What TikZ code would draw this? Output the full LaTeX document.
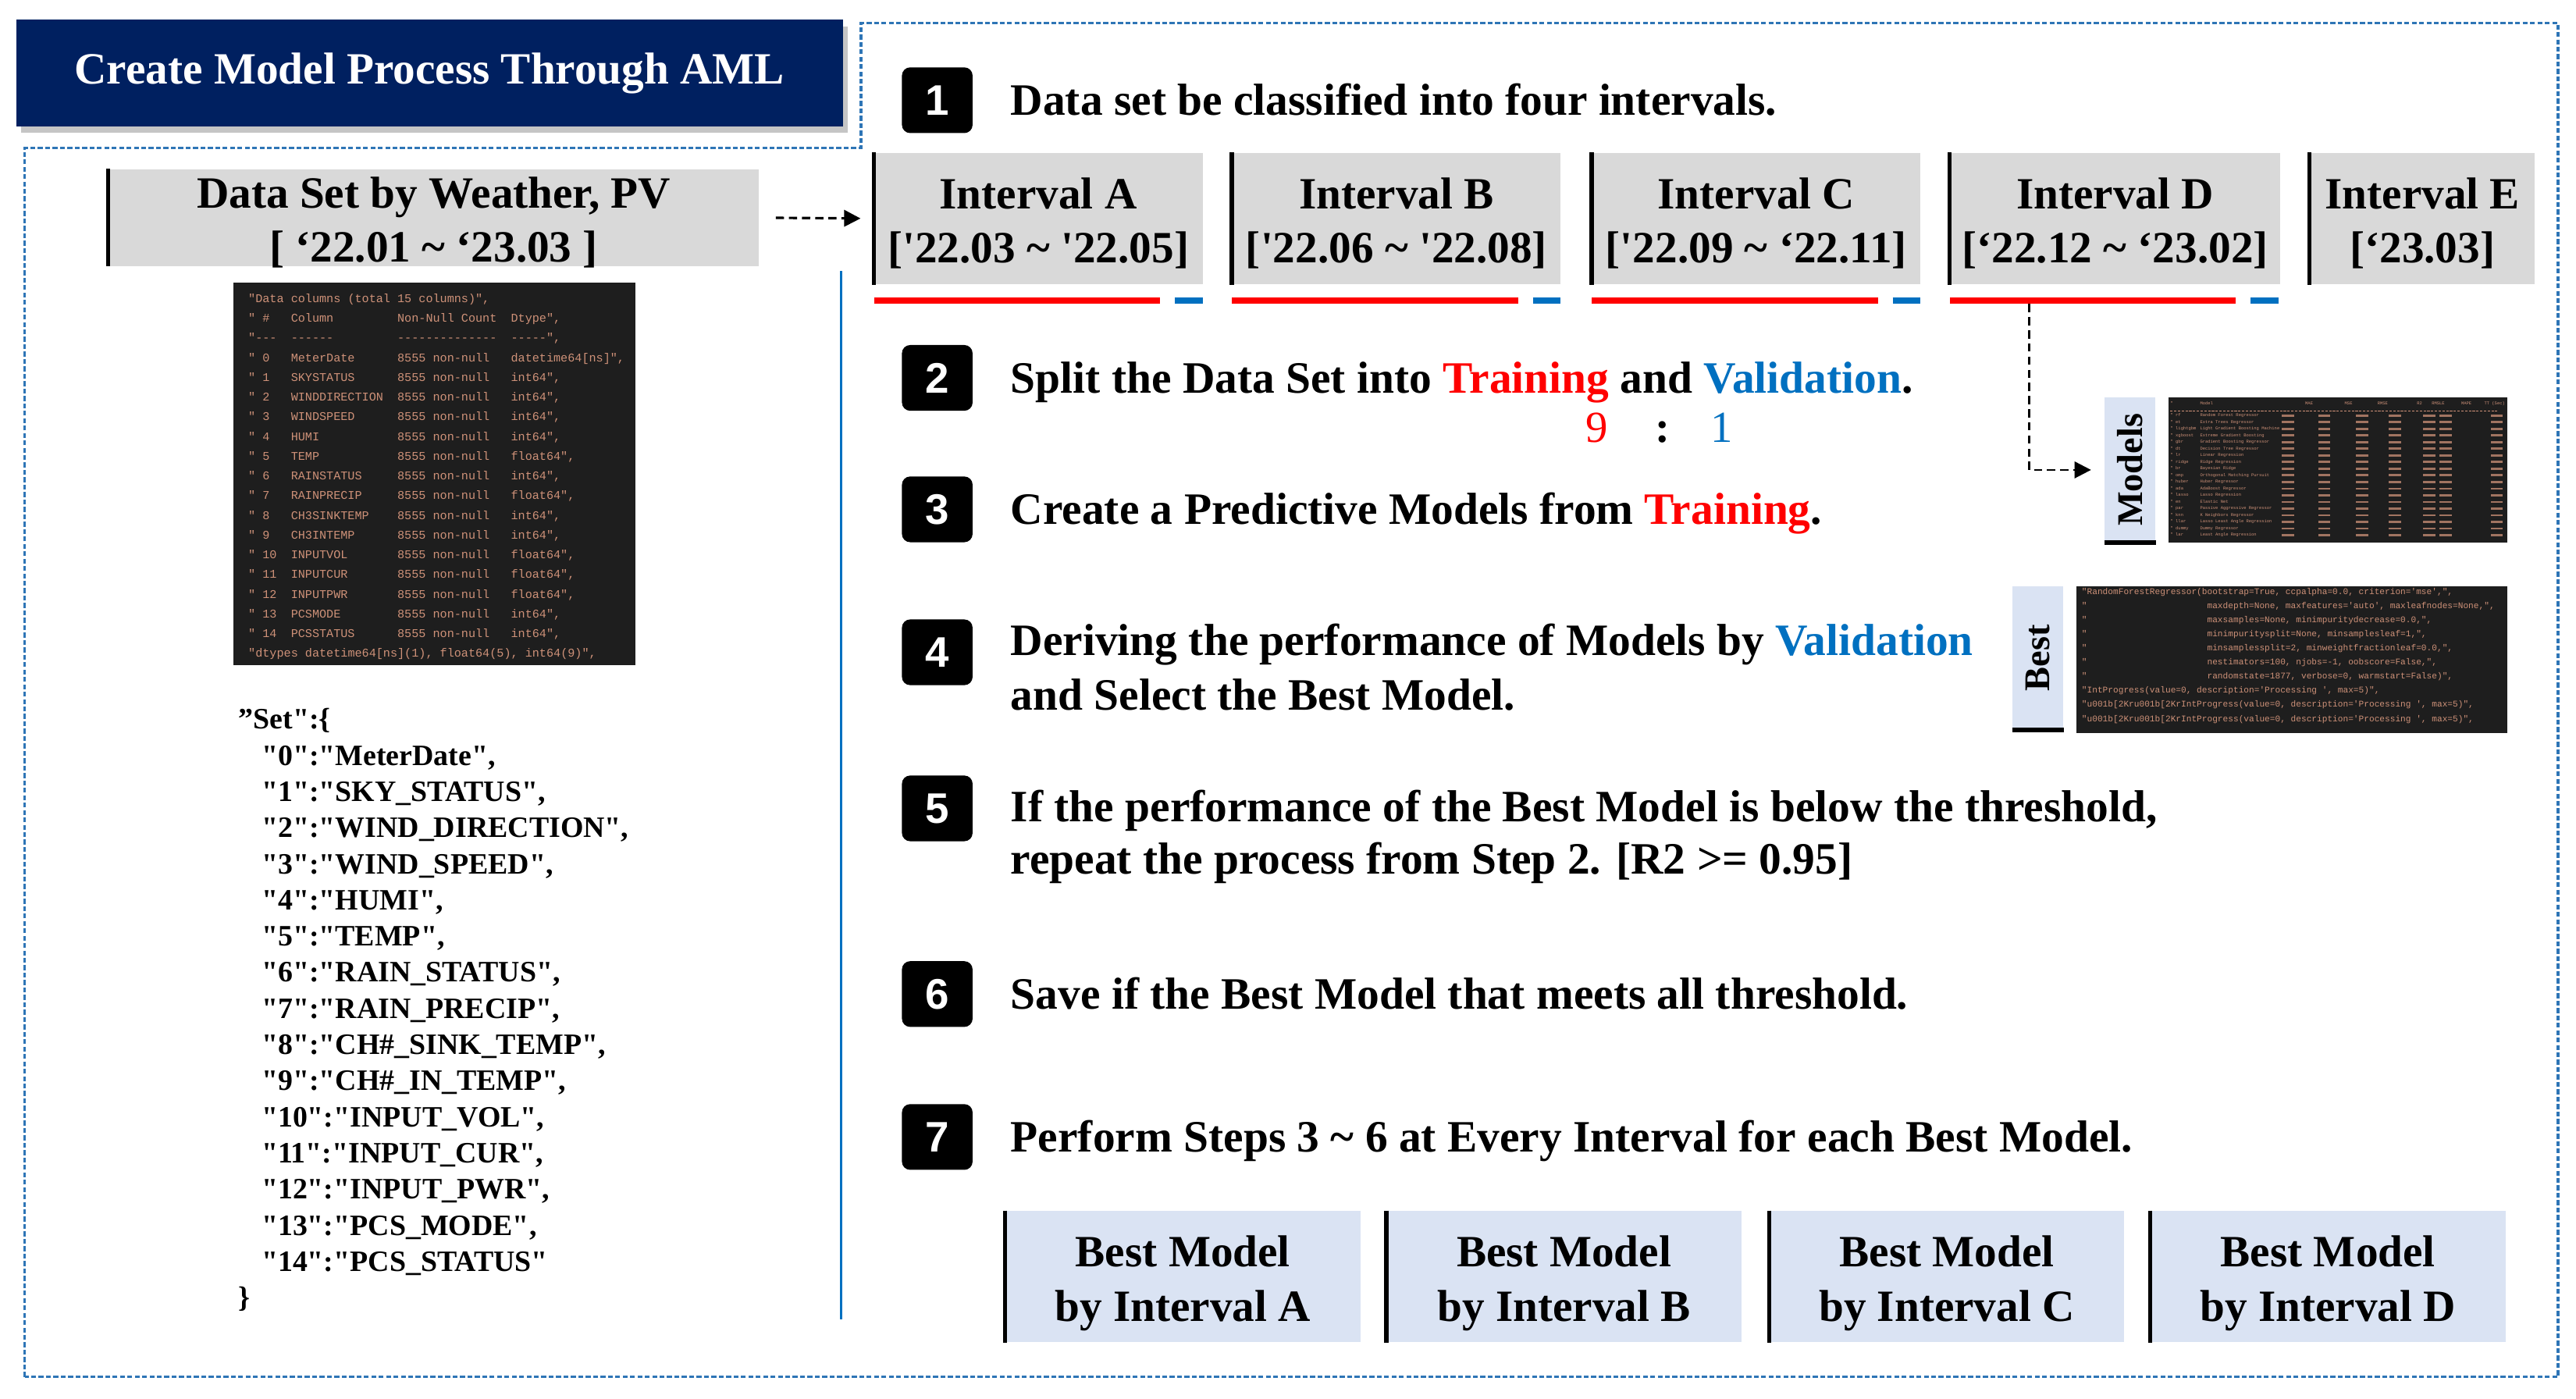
\documentclass[tikz,border=0pt]{standalone}
\usepackage{fontspec}
\setmainfont{Liberation Serif}[Ligatures=TeXOff]
\setsansfont{Liberation Sans}
\setmonofont{Liberation Mono}
\usetikzlibrary{shadows,arrows.meta}
\definecolor{navy}{HTML}{002060}
\definecolor{bluel}{HTML}{0070C0}
\definecolor{dashblue}{HTML}{2E75B6}
\definecolor{gbox}{HTML}{D9D9D9}
\definecolor{lbox}{HTML}{DAE3F3}
\definecolor{codebg}{HTML}{1E1E1E}
\definecolor{codefg}{HTML}{CE9178}
\newcommand\cln[4]{\makebox[3.6em][l]{#1}\makebox[9em][l]{#2}\makebox[9.6em][l]{#3}#4}
\newcommand\sps[1]{\hspace*{#1\dimexpr0.6em\relax}}
\begin{document}
\begin{tikzpicture}[x=1pt,y=-1pt,
  titlebox/.style={fill=navy, text=white, minimum width=503, minimum height=65, inner sep=0,
    font=\fontsize{27.2}{33}\selectfont\bfseries,
    drop shadow={opacity=0.45, shadow xshift=3pt, shadow yshift=-4pt}},
  graybox/.style={fill=gbox, inner sep=0, minimum height=80},
  lbluebox/.style={fill=lbox, inner sep=0, minimum height=80, minimum width=216},
  boxtxt/.style={inner sep=0, align=center, font=\fontsize{27.2}{33}\selectfont\bfseries},
  lbar/.style={line width=2.5pt, black},
  steptxt/.style={anchor=base west, inner sep=0, font=\fontsize{27.3}{33}\selectfont\bfseries},
  badge/.style={fill=black, rounded corners=5pt, minimum width=43, minimum height=40, inner sep=0,
    text=white, font=\fontsize{26}{26}\selectfont\sffamily\bfseries},
  codebox/.style={fill=codebg, inner sep=0},
  codetxt/.style={text=codefg, inner sep=0, align=left, anchor=north west},
  tinyc/.style={text=codefg, inner sep=0, anchor=base west, font=\fontsize{2.6}{3}\selectfont\ttfamily},
  outline/.style={dashblue, line width=1.6pt, dash pattern=on 3pt off 1.5pt},
  darr/.style={black, line width=1.5pt, dash pattern=on 5pt off 3pt, -{Triangle[length=10pt,width=10pt]}},
  vlabel/.style={rotate=90, inner sep=0, font=\fontsize{22}{22}\selectfont\bfseries}
]
\fill[white] (0,0) rectangle (1568,851);
\useasboundingbox (0,0) rectangle (1568,851);

% outer dashed outline
\draw[outline] (15,838) -- (15,90) -- (524,90) -- (524,14) -- (1557,14) -- (1557,838) -- cycle;

% title
\node[titlebox] (title) at (261.5,44.5) {Create Model Process Through AML};

% data set box
\node[graybox, minimum width=396, minimum height=59] (ds) at (264,132.5) {};
\node[boxtxt] (dst) at ([yshift=-3pt]ds.center) {Data Set by Weather, PV\\{}[ ‘22.01 \textasciitilde{} ‘23.03 ]};
\draw[lbar] (ds.north west) -- (ds.south west);

% divider
\draw[bluel, line width=1.5pt] (512,165) -- (512,803);

% left code box
\node[codebox, minimum width=245, minimum height=233] (code1) at (264.5,288.5) {};
\node[codetxt, font=\fontsize{7.2}{12}\selectfont\ttfamily] (code1t) at (151,178.6) {%
"Data columns (total 15 columns)",\\
\cln{" \#}{Column}{Non-Null Count}{Dtype",}\\
\cln{"---}{------}{--------------}{-----",}\\
\cln{" 0}{MeterDate}{8555 non-null}{datetime64[ns]",}\\
\cln{" 1}{SKYSTATUS}{8555 non-null}{int64",}\\
\cln{" 2}{WINDDIRECTION}{8555 non-null}{int64",}\\
\cln{" 3}{WINDSPEED}{8555 non-null}{int64",}\\
\cln{" 4}{HUMI}{8555 non-null}{int64",}\\
\cln{" 5}{TEMP}{8555 non-null}{float64",}\\
\cln{" 6}{RAINSTATUS}{8555 non-null}{int64",}\\
\cln{" 7}{RAINPRECIP}{8555 non-null}{float64",}\\
\cln{" 8}{CH3SINKTEMP}{8555 non-null}{int64",}\\
\cln{" 9}{CH3INTEMP}{8555 non-null}{int64",}\\
\cln{" 10}{INPUTVOL}{8555 non-null}{float64",}\\
\cln{" 11}{INPUTCUR}{8555 non-null}{float64",}\\
\cln{" 12}{INPUTPWR}{8555 non-null}{float64",}\\
\cln{" 13}{PCSMODE}{8555 non-null}{int64",}\\
\cln{" 14}{PCSSTATUS}{8555 non-null}{int64",}\\
"dtypes datetime64[ns](1), float64(5), int64(9)",};

% set list
\node[inner sep=0, align=left, anchor=north west, font=\fontsize{18}{22}\selectfont\bfseries] (setl) at (145,431) {%
”Set":\{\\
\hspace*{14pt}"0":"MeterDate",\\
\hspace*{14pt}"1":"SKY\_STATUS",\\
\hspace*{14pt}"2":"WIND\_DIRECTION",\\
\hspace*{14pt}"3":"WIND\_SPEED",\\
\hspace*{14pt}"4":"HUMI",\\
\hspace*{14pt}"5":"TEMP",\\
\hspace*{14pt}"6":"RAIN\_STATUS",\\
\hspace*{14pt}"7":"RAIN\_PRECIP",\\
\hspace*{14pt}"8":"CH\#\_SINK\_TEMP",\\
\hspace*{14pt}"9":"CH\#\_IN\_TEMP",\\
\hspace*{14pt}"10":"INPUT\_VOL",\\
\hspace*{14pt}"11":"INPUT\_CUR",\\
\hspace*{14pt}"12":"INPUT\_PWR",\\
\hspace*{14pt}"13":"PCS\_MODE",\\
\hspace*{14pt}"14":"PCS\_STATUS"\\
\}};

% step badges
\node[badge] (b1) at (570.5,61) {1};
\node[badge] (b2) at (570.5,230) {2};
\node[badge] (b3) at (570.5,310) {3};
\node[badge] (b4) at (570.5,397) {4};
\node[badge] (b5) at (570.5,492) {5};
\node[badge] (b6) at (570.5,605) {6};
\node[badge] (b7) at (570.5,692) {7};

% step texts
\node[steptxt] (s1) at (615,70) {Data set be classified into four intervals.};
\node[steptxt] (s2) at (615,239) {Split the Data Set into \textcolor{red}{Training} and \textcolor{bluel}{Validation}.};
\node[anchor=base, inner sep=0, font=\fontsize{27}{33}\selectfont, text=red] (r9) at (972,269) {9};
\node[anchor=base, inner sep=0, font=\fontsize{27}{33}\selectfont\bfseries] (rc) at (1012,269) {:};
\node[anchor=base, inner sep=0, font=\fontsize{27}{33}\selectfont, text=bluel] (r1) at (1048,269) {1};
\node[steptxt] (s3) at (615,319) {Create a Predictive Models from \textcolor{red}{Training}.};
\node[steptxt] (s4a) at (615,399) {Deriving the performance of Models by \textcolor{bluel}{Validation}};
\node[steptxt] (s4b) at (615,432) {and Select the Best Model.};
\node[steptxt] (s5a) at (615,500) {If the performance of the Best Model is below the threshold,};
\node[steptxt] (s5b) at (615,532) {repeat the process from Step 2. [R2 >= 0.95]};
\node[steptxt] (s6) at (615,614) {Save if the Best Model that meets all threshold.};
\node[steptxt] (s7) at (615,701) {Perform Steps 3 \textasciitilde{} 6 at Every Interval for each Best Model.};

% interval boxes
\node[graybox, minimum width=200] (iA) at (632,133) {};
\node[graybox, minimum width=200] (iB) at (850,133) {};
\node[graybox, minimum width=200] (iC) at (1069,133) {};
\node[graybox, minimum width=201] (iD) at (1287.5,133) {};
\node[graybox, minimum width=137] (iE) at (1474.5,133) {};
\node[boxtxt] (iAt) at ([yshift=-3pt]iA.center) {Interval A\\{}[\textquotesingle22.03 \textasciitilde{} \textquotesingle22.05]};
\node[boxtxt] (iBt) at ([yshift=-3pt]iB.center) {Interval B\\{}[\textquotesingle22.06 \textasciitilde{} \textquotesingle22.08]};
\node[boxtxt] (iCt) at ([yshift=-3pt]iC.center) {Interval C\\{}[\textquotesingle22.09 \textasciitilde{} ‘22.11]};
\node[boxtxt] (iDt) at ([yshift=-3pt]iD.center) {Interval D\\{}[‘22.12 \textasciitilde{} ‘23.02]};
\node[boxtxt] (iEt) at ([yshift=-3pt]iE.center) {Interval E\\{}[‘23.03]};
\foreach \nn in {iA,iB,iC,iD,iE} \draw[lbar] (\nn.north west) -- (\nn.south west);

% dataset -> interval A
\draw[darr, shorten <=10pt, shorten >=8pt] (ds.east) -- (iA.west);

% training / validation bars
\foreach \L in {532,750,969,1187} {
  \draw[red, line width=4pt] (\L,183) -- ++(174,0);
  \draw[bluel, line width=4pt] ({\L+183},183) -- ++(17,0);
}

% models label & table
\node[fill=lbox, inner sep=0, minimum width=31, minimum height=88] (mbox) at (1296.5,286) {};
\node[vlabel] (mlbl) at (mbox.center) {Models};
\draw[line width=3pt] (mbox.south west) -- (mbox.south east);
\node[codebox, minimum width=206, minimum height=88] (mtab) at (1423,286) {};
\node[tinyc] (mh0) at (1321,246.5) {"};
\node[tinyc] (mh1) at (1339,246.5) {Model};
\node[tinyc] (mh2) at (1403,246.5) {MAE};
\node[tinyc] (mh3) at (1427,246.5) {MSE};
\node[tinyc] (mh4) at (1447,246.5) {RMSE};
\node[tinyc] (mh5) at (1471,246.5) {R2};
\node[tinyc] (mh6) at (1480,246.5) {RMSLE};
\node[tinyc] (mh7) at (1498,246.5) {MAPE};
\node[tinyc] (mh8) at (1512,246.5) {TT (Sec)};
\draw[codefg, line width=0.5pt, dash pattern=on 1.5pt off 0.8pt] (1321,250) -- (1520,250);
\foreach \mc/\mn [count=\i] in {rf/Random Forest Regressor, et/Extra Trees Regressor,
  lightgbm/Light Gradient Boosting Machine, xgboost/Extreme Gradient Boosting,
  gbr/Gradient Boosting Regressor, dt/Decision Tree Regressor, lr/Linear Regression,
  ridge/Ridge Regression, br/Bayesian Ridge, omp/Orthogonal Matching Pursuit,
  huber/Huber Regressor, ada/AdaBoost Regressor, lasso/Lasso Regression,
  en/Elastic Net, par/Passive Aggressive Regressor, knn/K Neighbors Regressor,
  llar/Lasso Least Angle Regression, dummy/Dummy Regressor, lar/Least Angle Regression} {
  \node[tinyc] (mc\i) at (1321,{253.5+(\i-1)*4.05}) {" \mc};
  \node[tinyc] (mn\i) at (1339,{253.5+(\i-1)*4.05}) {\mn};
  \foreach \xx in {1389,1411,1434,1454,1475,1485,1516}
    \fill[codefg, opacity=0.75] (\xx,{252.2+(\i-1)*4.05}) rectangle ++(7.5,1.3);
}

% best label & code
\node[fill=lbox, inner sep=0, minimum width=31, minimum height=87] (bbox) at (1240.5,400.5) {};
\node[vlabel] (blbl) at (bbox.center) {Best};
\draw[line width=3pt] (bbox.south west) -- (bbox.south east);
\node[codebox, minimum width=262, minimum height=89] (bcode) at (1395,401.5) {};
\node[codetxt, font=\fontsize{5.3}{8.6}\selectfont\ttfamily] (bcodet) at (1267,357.6) {%
"RandomForestRegressor(bootstrap=True, ccpalpha=0.0, criterion='mse',",\\
"\sps{23}maxdepth=None, maxfeatures='auto', maxleafnodes=None,",\\
"\sps{23}maxsamples=None, minimpuritydecrease=0.0,",\\
"\sps{23}minimpuritysplit=None, minsamplesleaf=1,",\\
"\sps{23}minsamplessplit=2, minweightfractionleaf=0.0,",\\
"\sps{23}nestimators=100, njobs=-1, oobscore=False,",\\
"\sps{23}randomstate=1877, verbose=0, warmstart=False)",\\
"IntProgress(value=0, description='Processing ', max=5)",\\
"u001b[2Kru001b[2KrIntProgress(value=0, description='Processing ', max=5)",\\
"u001b[2Kru001b[2KrIntProgress(value=0, description='Processing ', max=5)",};

% connector interval D -> models
\coordinate (dtap) at (1235,185);
\draw[darr, line width=1.3pt, shorten >=8pt] (dtap) |- (mbox.west);

% best model boxes
\node[lbluebox] (bmA) at (720,777) {};
\node[lbluebox] (bmB) at (952,777) {};
\node[lbluebox] (bmC) at (1185,777) {};
\node[lbluebox] (bmD) at (1417,777) {};
\node[boxtxt] (bmAt) at ([yshift=-4pt]bmA.center) {Best Model\\by Interval A};
\node[boxtxt] (bmBt) at ([yshift=-4pt]bmB.center) {Best Model\\by Interval B};
\node[boxtxt] (bmCt) at ([yshift=-4pt]bmC.center) {Best Model\\by Interval C};
\node[boxtxt] (bmDt) at ([yshift=-4pt]bmD.center) {Best Model\\by Interval D};
\foreach \nn in {bmA,bmB,bmC,bmD} \draw[lbar] (\nn.north west) -- (\nn.south west);
\end{tikzpicture}
\end{document}
